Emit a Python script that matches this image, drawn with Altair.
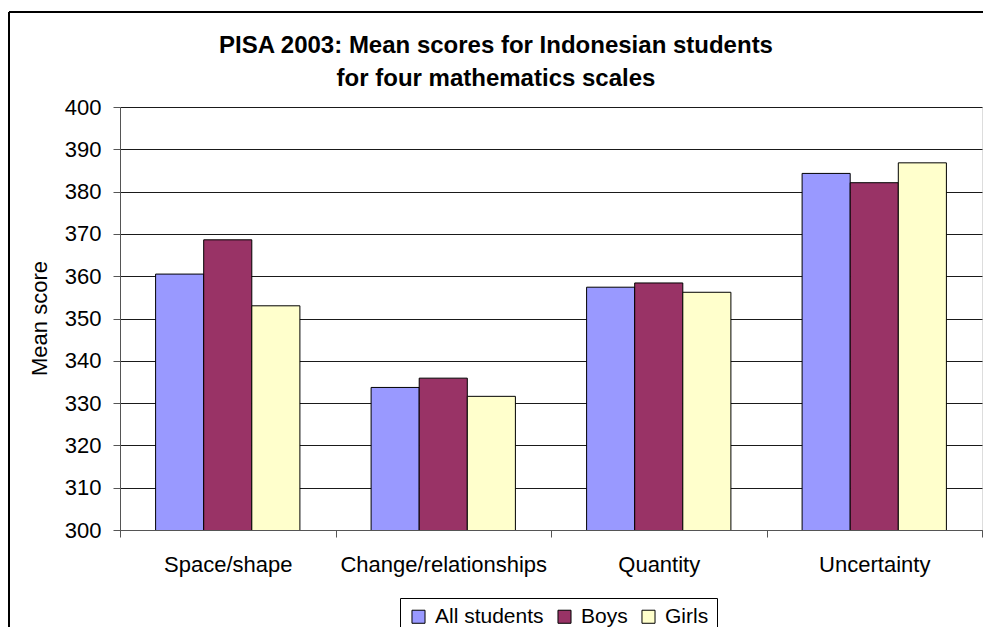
import altair as alt
import pandas as pd

categories = ["Space/shape", "Change/relationships", "Quantity", "Uncertainty"]
series = ["All students", "Boys", "Girls"]
all_students = [360.5, 333.7, 357.4, 384.3]
boys = [368.6, 335.9, 358.4, 382.1]
girls = [353.0, 331.6, 356.2, 386.8]
colors = ["#9999FF", "#993366", "#FFFFCC"]
y_ticks = list(range(300, 401, 10))
title_lines = ["PISA 2003: Mean scores for Indonesian students", "for four mathematics scales"]

rows = []
for i, c in enumerate(categories):
    for s, vals in zip(series, [all_students, boys, girls]):
        rows.append({"Scale": c, "Group": s, "Score": vals[i]})
df = pd.DataFrame(rows)

FONT = "Liberation Sans"

bars = alt.Chart(df).mark_bar(stroke="#000000", strokeWidth=1, clip=True).encode(
    x=alt.X("Scale:N", sort=categories,
            scale=alt.Scale(paddingInner=0, paddingOuter=0),
            axis=alt.Axis(title=None, labelAngle=0, labelFontSize=22, labelFont=FONT,
                          labelColor="#000000", tickBand="extent", tickSize=7,
                          tickColor="#555555", domainColor="#555555",
                          labelPadding=17, labelLimit=0)),
    xOffset=alt.XOffset("Group:N", sort=series,
                        scale=alt.Scale(paddingInner=0, paddingOuter=0.74)),
    y=alt.Y("Score:Q",
            scale=alt.Scale(domain=[300, 400], nice=False, zero=False),
            axis=alt.Axis(title="Mean score", values=y_ticks, grid=True,
                          gridColor="#1a1a1a", gridWidth=1, tickSize=7,
                          tickColor="#555555", domainColor="#555555",
                          labelFontSize=22, labelFont=FONT, labelColor="#000000",
                          labelPadding=12, titleFontSize=22, titleFont=FONT,
                          titleFontWeight="normal", titleColor="#000000",
                          titleX=-81, titleY=211, titleAngle=-90,
                          titleBaseline="middle", titleAlign="center")),
    fill=alt.Fill("Group:N", sort=series,
                  scale=alt.Scale(domain=series, range=colors),
                  legend=alt.Legend(title=None, orient="none", legendX=280, legendY=491,
                                    direction="horizontal", symbolType="square",
                                    symbolSize=170, symbolStrokeColor="#000000",
                                    symbolStrokeWidth=1, labelFontSize=21,
                                    labelFont=FONT, labelColor="#000000",
                                    strokeColor="#000000", fillColor="#FFFFFF",
                                    padding=8, columnPadding=10, labelOffset=6)),
)

frame_df = pd.DataFrame({"k": [0]})
frame_top = alt.Chart(frame_df).mark_rule(color="#000000", strokeWidth=2).encode(
    x=alt.value(-111), x2=alt.value(900), y=alt.value(-95))
frame_left = alt.Chart(frame_df).mark_rule(color="#000000", strokeWidth=2).encode(
    x=alt.value(-111), y=alt.value(-95), y2=alt.value(530))

chart = alt.layer(bars, frame_top, frame_left).properties(
    width=862, height=423,
    autosize=alt.AutoSizeParams(type="none"),
    padding={"left": 112, "top": 99, "right": 1, "bottom": 97},
    title=alt.TitleParams(text=title_lines, font=FONT, fontSize=24, fontWeight="bold",
                          color="#000000", anchor="middle", dx=-55, dy=98, offset=18,
                          lineHeight=33),
).configure_view(stroke="#808080", strokeWidth=1).configure(background="#FFFFFF")

chart.save("out.html", embed_options={"renderer": "svg", "actions": False})
